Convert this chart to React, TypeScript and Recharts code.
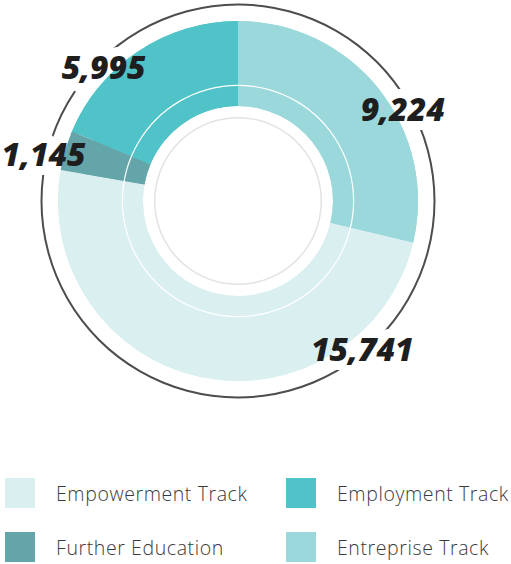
import React from "react";
import { Pie, PieChart } from "recharts";

// values, in drawing order (clockwise from 12 o'clock)
const TRACKS = ["Entreprise Track", "Empowerment Track", "Further Education", "Employment Track"];
const COUNTS = [9224, 15741, 1145, 5995];
const COLORS = ["#9bd8db", "#daeff0", "#64a5aa", "#50c3c8"];

// legend order as in the original
const LEGEND_ORDER = ["Empowerment Track", "Employment Track", "Further Education", "Entreprise Track"];

// where each value label sits: clockwise degrees from top, distance from centre
const LABEL_ANGLE = [60.7, 139.9, 283.6, 315];
const LABEL_RADIUS = [189, 193, 200, 190];

const CX = 238;
const CY = 201;
const RADIAN = Math.PI / 180;

const data = TRACKS.map((name, i) => ({ name, value: COUNTS[i], fill: COLORS[i] }));
const ring = [{ name: "ring", value: 1 }];

const labelFont: React.CSSProperties = {
  fontFamily: "'Open Sans', 'DejaVu Sans', sans-serif",
  fontWeight: 800,
  fontStyle: "italic",
  fontSize: 32,
};

function labelPos(props: any) {
  const i = props.index;
  const a = (90 - LABEL_ANGLE[i]) * RADIAN;
  const r = LABEL_RADIUS[i];
  return { x: props.cx + r * Math.cos(a), y: props.cy - r * Math.sin(a) };
}

// white knock-out behind each number, cuts the outer dark ring
function HaloLabel(props: any) {
  const { x, y } = labelPos(props);
  return (
    <text
      x={x}
      y={y}
      textAnchor="middle"
      dominantBaseline="central"
      fill="#fff"
      stroke="#fff"
      strokeWidth={18}
      strokeLinejoin="round"
      style={labelFont}
    >
      {COUNTS[props.index].toLocaleString("en-US")}
    </text>
  );
}

function ValueLabel(props: any) {
  const { x, y } = labelPos(props);
  return (
    <text x={x} y={y} textAnchor="middle" dominantBaseline="central" fill="#1e1e1e" style={labelFont}>
      {COUNTS[props.index].toLocaleString("en-US")}
    </text>
  );
}

function Legend() {
  return (
    <div
      style={{
        position: "absolute",
        left: 5,
        top: 478,
        width: 506,
        display: "grid",
        gridTemplateColumns: "281px 225px",
        rowGap: 24,
      }}
    >
      {LEGEND_ORDER.map((name) => (
        <div key={name} style={{ display: "flex", alignItems: "center", height: 30 }}>
          <div style={{ width: 30, height: 30, background: COLORS[TRACKS.indexOf(name)] }} />
          <span
            style={{
              marginLeft: 21,
              fontFamily: "'Open Sans', sans-serif",
              fontWeight: 300,
              fontSize: 19.5,
              letterSpacing: 0.6,
              color: "#3a3a3a",
              whiteSpace: "nowrap",
            }}
          >
            {name}
          </span>
        </div>
      ))}
    </div>
  );
}

const layer: React.CSSProperties = { position: "absolute", left: 0, top: 0 };

export default function App() {
  return (
    <div style={{ position: "absolute", left: 0, top: 0, width: 511, height: 564, background: "#fff" }}>
      {/* back layer: outer dark ring, broken by the label halos */}
      <div style={layer}>
        <PieChart width={511} height={440} margin={{ top: 0, right: 0, bottom: 0, left: 0 }}>
          <Pie
            data={ring}
            dataKey="value"
            cx={CX}
            cy={CY}
            innerRadius={195.5}
            outerRadius={197.5}
            fill="#4d4d4d"
            stroke="none"
            isAnimationActive={false}
          />
          <Pie
            data={data}
            dataKey="value"
            cx={CX}
            cy={CY}
            startAngle={90}
            endAngle={-270}
            innerRadius={95}
            outerRadius={180}
            fill="none"
            stroke="none"
            label={HaloLabel}
            labelLine={false}
            isAnimationActive={false}
          />
        </PieChart>
      </div>
      {/* front layer: the donut and its numbers */}
      <div style={layer}>
        <PieChart width={511} height={440} margin={{ top: 0, right: 0, bottom: 0, left: 0 }}>
          <Pie
            data={data}
            dataKey="value"
            nameKey="name"
            cx={CX}
            cy={CY}
            startAngle={90}
            endAngle={-270}
            innerRadius={95}
            outerRadius={180}
            stroke="none"
            label={ValueLabel}
            labelLine={false}
            isAnimationActive={false}
          />
          <Pie
            data={ring}
            dataKey="value"
            cx={CX}
            cy={CY}
            innerRadius={115}
            outerRadius={116.2}
            fill="#fff"
            stroke="none"
            isAnimationActive={false}
          />
          <Pie
            data={ring}
            dataKey="value"
            cx={CX}
            cy={CY}
            innerRadius={82.5}
            outerRadius={84}
            fill="#e3e3e3"
            stroke="none"
            isAnimationActive={false}
          />
        </PieChart>
      </div>
      <Legend />
    </div>
  );
}
